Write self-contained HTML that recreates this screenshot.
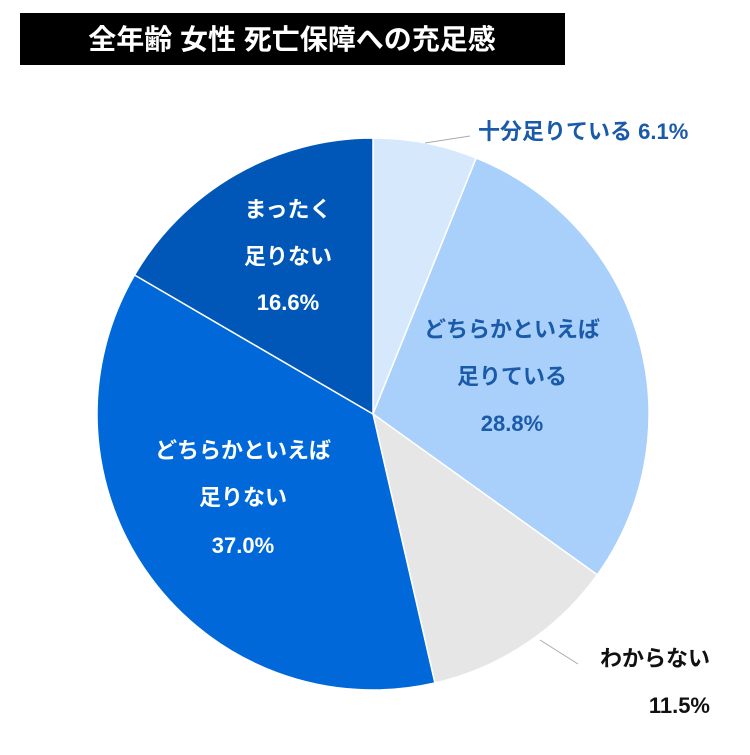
<!DOCTYPE html>
<html><head><meta charset="utf-8"><style>
body{margin:0;background:#fff;width:750px;height:750px;overflow:hidden;font-family:"Liberation Sans","Noto Sans CJK JP",sans-serif;}
</style></head><body>
<svg width="750" height="750" id="chart">
<rect x="20" y="13" width="545" height="52" fill="#000"/>
<text x="292" y="49" text-anchor="middle" fill="#fff" font-size="28" font-weight="bold" font-family="Liberation Sans, Noto Sans CJK JP, sans-serif">全年齢 女性 死亡保障への充足感</text>
<g id="slices"></g>
<line x1="425" y1="143" x2="470" y2="136" stroke="#aaa"/>
<line x1="540" y1="640" x2="578" y2="664" stroke="#aaa"/>
<g font-family="Liberation Sans, Noto Sans CJK JP, sans-serif" font-weight="bold" font-size="22">
<text x="478" y="139" fill="#1a5aa8">十分足りている 6.1%</text>
<g fill="#1a5aa8" text-anchor="middle">
<text x="512" y="337">どちらかといえば</text><text x="512" y="384">足りている</text><text x="512" y="431">28.8%</text></g>
<text x="710" y="666" text-anchor="end" fill="#111">わからない</text>
<text x="710" y="713" text-anchor="end" fill="#111">11.5%</text>
<g fill="#fff" text-anchor="middle">
<text x="288" y="217">まったく</text><text x="288" y="264">足りない</text><text x="288" y="310">16.6%</text></g>
<g fill="#fff" text-anchor="middle">
<text x="243" y="458">どちらかといえば</text><text x="243" y="505">足りない</text><text x="243" y="553">37.0%</text></g>
</g>
</svg>
<script>
const categories=["十分足りている","どちらかといえば足りている","わからない","どちらかといえば足りない","まったく足りない"];
const values=[6.1,28.8,11.5,37.0,16.6];
const colors=["#d6e8fb","#a9d0fa","#e6e6e6","#0068d9","#0057b8"];
const cx=373,cy=414,r=276;
const g=document.getElementById('slices');
const total=values.reduce((a,b)=>a+b,0);
let a0=-Math.PI/2;
values.forEach((v,i)=>{
 const a1=a0+v/total*2*Math.PI;
 const x0=cx+r*Math.cos(a0),y0=cy+r*Math.sin(a0),x1=cx+r*Math.cos(a1),y1=cy+r*Math.sin(a1);
 const p=document.createElementNS('http://www.w3.org/2000/svg','path');
 p.setAttribute('d',`M${cx},${cy}L${x0},${y0}A${r},${r} 0 ${a1-a0>Math.PI?1:0} 1 ${x1},${y1}Z`);
 p.setAttribute('fill',colors[i]);p.setAttribute('stroke','#fff');p.setAttribute('stroke-width','1.5');
 
 
 g.appendChild(p);a0=a1;
});
</script>
</body></html>
